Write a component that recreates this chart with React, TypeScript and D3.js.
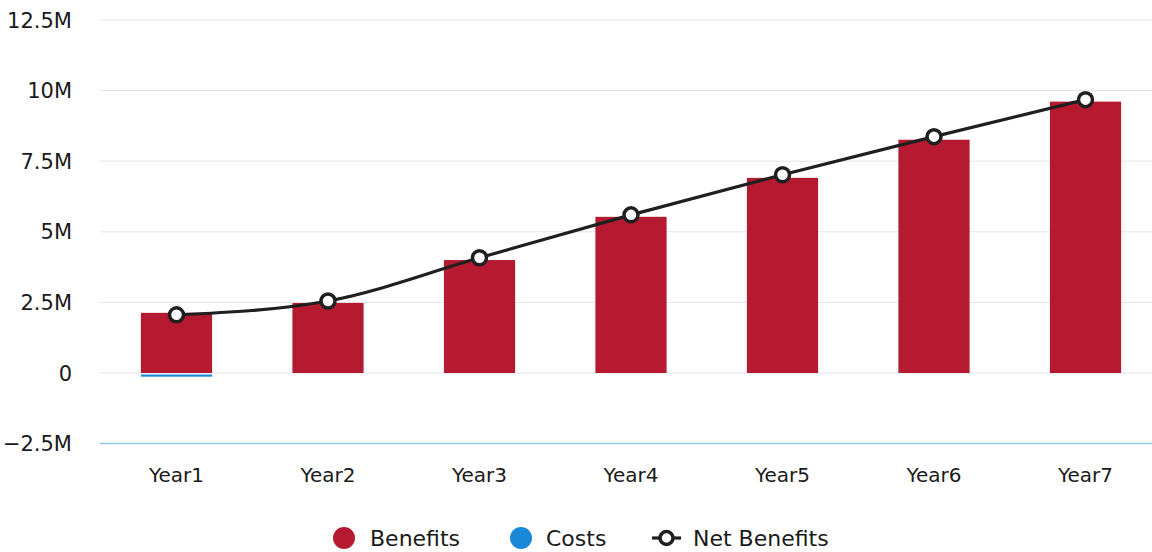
import React from "react";
import * as d3 from "d3";

const categories = ["Year1", "Year2", "Year3", "Year4", "Year5", "Year6", "Year7"];
const benefits = [2.13, 2.48, 4.0, 5.53, 6.91, 8.26, 9.61];
const costs = [-0.13, 0, 0, 0, 0, 0, 0];
const netBenefits = [2.06, 2.55, 4.08, 5.6, 7.02, 8.37, 9.68];
const yTicks = [-2.5, 0, 2.5, 5, 7.5, 10, 12.5];
const tickLabels = ["\u22122.5M", "0", "2.5M", "5M", "7.5M", "10M", "12.5M"];
const legendItems = ["Benefits", "Costs", "Net Benefits"];

const W = 1152;
const H = 552;
const FONT = "'DejaVu Sans', sans-serif";
const RED = "#b61a30";
const BLUE = "#1a88d6";
const LINE = "#1f1f1f";

export default function App() {
  const x = d3
    .scaleBand<string>()
    .domain(categories)
    .range([100.75, 1161.25])
    .paddingInner(0.53)
    .paddingOuter(0.265);
  const y = d3.scaleLinear().domain([-2.5, 12.5]).range([443.6, 20]);
  const bw = x.bandwidth();
  const cx = (c: string) => (x(c) as number) + bw / 2;

  const line = d3
    .line<number>()
    .x((_, i) => cx(categories[i]))
    .y((d) => y(d))
    .curve(d3.curveMonotoneX);

  return (
    <svg
      width={W}
      height={H}
      style={{ position: "absolute", left: 0, top: 0, background: "#fff" }}
      fontFamily={FONT}
    >
      {yTicks.map((t, i) =>
        t === -2.5 ? null : (
          <line key={"g" + i} x1={100} x2={W} y1={y(t)} y2={y(t)} stroke="#e4e4ea" strokeWidth={1} />
        )
      )}
      <line x1={100} x2={W} y1={y(-2.5)} y2={y(-2.5)} stroke="#94c6ec" strokeWidth={1.5} />
      {yTicks.map((t, i) => (
        <text key={"yl" + i} x={72} y={y(t) + 7.5} textAnchor="end" fontSize={21} fill="#1a1a1a">
          {tickLabels[i]}
        </text>
      ))}
      {benefits.map((v, i) => (
        <rect
          key={"b" + i}
          x={x(categories[i])}
          y={y(v)}
          width={bw}
          height={y(0) - y(v)}
          fill={RED}
        />
      ))}
      {costs.map((v, i) =>
        v < 0 ? (
          <rect
            key={"c" + i}
            x={x(categories[i])}
            y={y(0) + 1.5}
            width={bw}
            height={Math.max(0, y(v) - y(0) - 1.5)}
            fill={BLUE}
          />
        ) : null
      )}
      <path d={line(netBenefits) || ""} fill="none" stroke={LINE} strokeWidth={3.2} />
      {netBenefits.map((v, i) => (
        <circle key={"m" + i} cx={cx(categories[i])} cy={y(v)} r={7} fill="#fff" stroke={LINE} strokeWidth={3.5} />
      ))}
      {categories.map((c, i) => (
        <text key={"xl" + i} x={cx(c)} y={482} textAnchor="middle" fontSize={20} fill="#1a1a1a">
          {c}
        </text>
      ))}
      <g fontSize={22} fill="#1a1a1a">
        <circle cx={344} cy={538} r={11} fill={RED} />
        <text x={370} y={546}>{legendItems[0]}</text>
        <circle cx={521} cy={538} r={11} fill={BLUE} />
        <text x={546} y={546}>{legendItems[1]}</text>
        <line x1={652} x2={681} y1={538} y2={538} stroke={LINE} strokeWidth={3.2} />
        <circle cx={666.5} cy={538} r={6.5} fill="#fff" stroke={LINE} strokeWidth={3.5} />
        <text x={693} y={546}>{legendItems[2]}</text>
      </g>
    </svg>
  );
}
